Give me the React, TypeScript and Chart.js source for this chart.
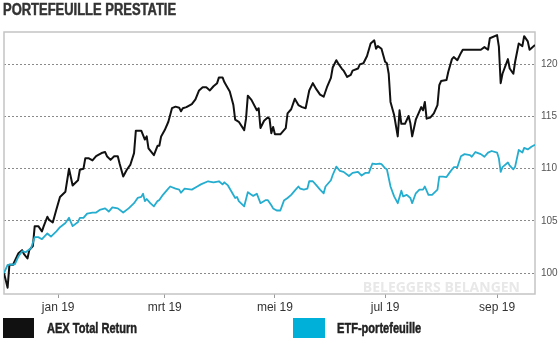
import React, { useEffect, useRef } from "react";
import Chart from "chart.js/auto";

const chartTitle = "PORTEFEUILLE PRESTATIE";
const watermark = "BELEGGERS BELANGEN";

// x = days since 1 Jan 2019
const monthTickDays = [0, 59, 120, 181, 243];
const monthTickLabels = ["jan 19", "mrt 19", "mei 19", "jul 19", "sep 19"];
const yTickValues = [100, 105, 110, 115, 120];

const aexLabel = "AEX Total Return";
const aexDays = [-30,-28,-27,-25,-22,-20,-19,-17,-16,-14,-13,-11,-9,-8,-6,-5,-3,-1,1,4,6,8,11,12,14,15,17,19,21,24,26,27,29,31,33,34,36,38,40,42,43,46,48,49,50,53,55,56,57,59,61,63,65,67,68,69,71,74,76,78,80,82,84,86,88,89,91,92,93,95,97,98,100,103,104,105,107,110,111,112,114,116,117,118,119,120,123,126,127,129,131,133,135,137,139,141,143,145,147,149,151,152,154,155,157,158,160,162,163,166,167,169,171,173,175,176,177,179,181,182,183,184,186,188,189,190,192,194,195,196,198,200,201,202,203,204,206,208,210,211,212,215,216,218,219,221,223,224,228,234,236,238,239,243,244,245,246,249,250,252,253,255,257,258,260,261,262,264];
const aexValues = [100.0,98.6,100.8,100.8,101.9,102.2,101.85,101.4,102.2,102.6,104.5,104.5,104.0,104.5,105.4,105.1,104.85,106.1,107.3,107.8,110.0,108.4,108.9,109.9,110.0,111.0,111.0,110.8,111.2,111.5,111.6,111.2,110.85,111.2,111.2,110.5,109.25,109.9,110.4,111.5,113.65,113.65,112.8,113.1,111.95,111.3,112.2,112.2,113.1,113.7,114.5,115.8,115.95,115.85,115.5,115.8,115.9,116.2,116.65,117.5,117.8,117.8,117.5,117.9,118.2,118.75,118.75,118.3,118.0,117.4,116.1,114.7,114.5,113.7,114.8,117.0,116.6,115.6,115.8,113.9,114.6,114.9,114.8,113.4,114.0,113.3,113.3,113.9,115.3,115.7,116.7,116.1,115.9,115.8,117.5,118.2,117.6,117.1,116.9,117.9,118.7,119.7,120.4,120.1,119.6,119.4,118.8,119.0,119.4,119.6,120.0,120.1,120.8,122.0,122.3,121.5,121.75,121.5,120.25,120.1,119.1,116.4,115.15,113.1,115.6,114.3,114.3,115.05,114.35,113.1,114.7,115.5,115.9,115.6,116.4,114.8,114.9,115.3,116.1,118.0,118.4,118.5,119.3,120.5,120.7,120.4,121.1,121.4,121.4,121.4,121.65,121.4,122.5,122.8,121.7,118.2,119.1,120.5,119.6,119.1,120.25,122.0,121.75,122.7,122.2,121.4,121.55,121.85];

const etfLabel = "ETF-portefeuille";
const etfDays = [-30,-28,-24,-22,-20,-18,-15,-13,-11,-9,-6,-4,-1,1,4,6,8,11,12,14,16,19,21,23,26,28,30,33,36,39,42,44,46,47,48,49,51,53,55,56,58,60,62,65,67,68,70,74,77,79,83,86,89,91,92,94,96,98,99,100,103,105,108,110,112,115,116,118,119,121,123,125,127,129,131,133,134,136,138,139,141,143,145,147,148,151,152,154,156,158,161,163,166,168,170,172,174,176,178,179,181,182,184,186,188,190,191,193,195,196,198,200,202,203,205,207,210,211,213,215,217,219,221,223,225,228,229,231,234,236,238,240,243,244,245,246,249,250,252,253,255,257,258,260,262,264];
const etfValues = [100.0,100.8,100.85,101.6,102.1,102.0,102.4,103.45,103.45,103.25,103.8,103.5,104.0,104.4,104.8,105.3,104.5,104.9,105.3,105.3,105.7,105.8,105.8,106.05,106.2,105.9,106.3,106.2,105.8,106.2,106.7,107.2,107.3,107.6,106.9,107.1,106.7,106.4,106.9,107.0,107.5,107.9,108.3,108.1,108.0,107.7,108.1,108.0,108.3,108.5,108.8,108.7,108.8,108.5,108.7,108.4,107.8,107.2,107.3,106.9,106.4,107.75,107.4,107.6,106.7,107.0,107.0,106.5,106.2,106.0,106.0,106.95,107.2,107.5,107.9,108.3,108.1,108.0,108.1,108.8,108.8,108.4,108.0,107.65,108.3,108.9,109.4,110.2,109.8,109.7,109.3,109.6,109.7,109.35,109.6,109.6,110.5,110.45,110.5,110.45,110.05,109.95,108.3,107.35,106.7,107.9,107.35,107.5,107.2,106.7,107.65,108.0,108.0,108.3,107.5,107.5,108.0,109.25,109.25,109.2,109.7,110.15,110.15,111.2,111.4,111.3,111.15,111.6,111.4,111.15,111.55,111.7,111.55,111.0,109.7,110.15,110.6,110.3,109.95,110.2,111.8,111.55,112.0,111.85,112.1,112.3];

const AEX_COLOR = "#111111";
const ETF_COLOR = "#25adcf";
const ETF_BOX = "#00b0d8";
const BOLD_FAMILY = "'Liberation Sans', Arial, sans-serif";
const SANS = "'Liberation Sans', Arial, sans-serif";

const framePlugin = {
  id: "frame",
  beforeDatasetsDraw(chart: any) {
    const { ctx, chartArea } = chart;
    ctx.save();
    ctx.font = "bold 14px 'Open Sans', sans-serif";
    ctx.fillStyle = "#e8e8e8";
    ctx.textAlign = "right";
    ctx.textBaseline = "alphabetic";
    ctx.fillText(watermark, chartArea.right - 15, chartArea.bottom - 2, 160);
    ctx.strokeStyle = "#c4c4c4";
    ctx.lineWidth = 1.5;
    ctx.strokeRect(chartArea.left, chartArea.top, chartArea.right - chartArea.left, chartArea.bottom - chartArea.top);
    ctx.restore();
  },
};

export default function App() {
  const ref = useRef<HTMLCanvasElement | null>(null);
  useEffect(() => {
    if (!ref.current) return;
    const chart = new Chart(ref.current, {
      type: "line",
      data: {
        datasets: [
          {
            label: etfLabel,
            data: etfDays.map((d, i) => ({ x: d, y: etfValues[i] })),
            borderColor: ETF_COLOR,
            borderWidth: 1.8,
            pointRadius: 0,
            tension: 0,
            borderJoinStyle: "round",
          },
          {
            label: aexLabel,
            data: aexDays.map((d, i) => ({ x: d, y: aexValues[i] })),
            borderColor: AEX_COLOR,
            borderWidth: 2,
            pointRadius: 0,
            tension: 0,
            borderJoinStyle: "round",
          },
        ],
      },
      options: {
        responsive: false,
        animation: false,
        layout: { padding: { left: 4, top: 32, right: 0, bottom: 28 } },
        plugins: { legend: { display: false }, tooltip: { enabled: false } },
        scales: {
          x: {
            type: "linear",
            min: -30,
            max: 264,
            grid: { drawOnChartArea: false, drawTicks: true, tickLength: 4, color: "#9a9a9a" },
            border: { display: false },
            ticks: {
              autoSkip: false,
              maxRotation: 0,
              padding: 2,
              color: "#333",
              font: { family: SANS, size: 12 },
              callback: (v: any) => {
                const i = monthTickDays.indexOf(Number(v));
                return i >= 0 ? monthTickLabels[i] : "";
              },
            },
            afterBuildTicks: (s: any) => {
              s.ticks = monthTickDays.map((v) => ({ value: v }));
            },
            afterFit: (s: any) => {
              s.height = 20;
            },
          },
          y: {
            type: "linear",
            position: "right",
            min: 98,
            max: 123.1,
            grid: { color: "#8a8a8a", drawTicks: false, lineWidth: 1 },
            border: { display: false, dash: [2, 2] },
            ticks: {
              padding: 6,
              color: "#555",
              font: { family: SANS, size: 10 },
            },
            afterBuildTicks: (s: any) => {
              s.ticks = yTickValues.map((v) => ({ value: v }));
            },
            afterFit: (s: any) => {
              s.width = 25;
            },
          },
        },
      },
      plugins: [framePlugin],
    } as any);
    return () => chart.destroy();
  }, []);

  const legendText: React.CSSProperties = {
    position: "absolute",
    fontFamily: BOLD_FAMILY,
    fontWeight: "bold",
    fontSize: 14,
    lineHeight: "20px",
    color: "#222",
    top: 318,
    whiteSpace: "nowrap",
    transform: "scaleX(0.79)",
    transformOrigin: "0 50%",
    WebkitTextStroke: "0.45px #222",
  };

  return (
    <div style={{ position: "absolute", left: 0, top: 0, width: 560, height: 342, background: "#fff", overflow: "hidden" }}>
      <canvas ref={ref} width={560} height={342} style={{ position: "absolute", left: 0, top: 0, width: 560, height: 342 }} />
      <div
        style={{
          position: "absolute",
          left: 3,
          top: 1,
          fontFamily: BOLD_FAMILY,
          fontWeight: "bold",
          fontSize: 16,
          lineHeight: "18px",
          color: "#333",
          whiteSpace: "nowrap",
          transform: "scaleX(0.81)",
          transformOrigin: "0 50%",
          WebkitTextStroke: "0.5px #333",
        }}
      >
        {chartTitle}
      </div>
      <div style={{ position: "absolute", left: 3, top: 318, width: 31, height: 20, background: AEX_COLOR }} />
      <div style={{ ...legendText, left: 47 }}>{aexLabel}</div>
      <div style={{ position: "absolute", left: 293, top: 318, width: 32, height: 20, background: ETF_BOX }} />
      <div style={{ ...legendText, left: 337 }}>{etfLabel}</div>
    </div>
  );
}
